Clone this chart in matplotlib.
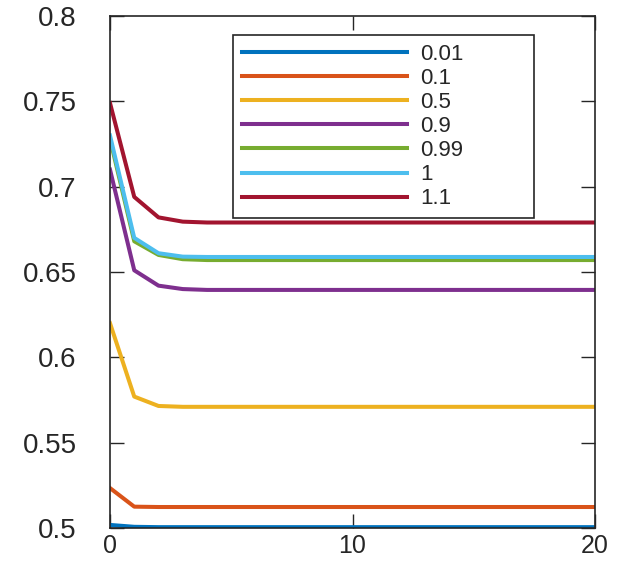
import matplotlib
matplotlib.use("Agg")
import matplotlib.pyplot as plt

# iteration index
iters = list(range(21))

labels = ["0.01", "0.1", "0.5", "0.9", "0.99", "1", "1.1"]
colors = ["#0072BD", "#D95319", "#EDB120", "#7E2F8E", "#77AC30", "#4DBEEE", "#A2142F"]

s_001 = [0.5018, 0.5007, 0.5005, 0.5005, 0.5005, 0.5005, 0.5005, 0.5005, 0.5005, 0.5005,
         0.5005, 0.5005, 0.5005, 0.5005, 0.5005, 0.5005, 0.5005, 0.5005, 0.5005, 0.5005, 0.5005]
s_01 = [0.5234, 0.5125, 0.5123, 0.5123, 0.5123, 0.5123, 0.5123, 0.5123, 0.5123, 0.5123,
        0.5123, 0.5123, 0.5123, 0.5123, 0.5123, 0.5123, 0.5123, 0.5123, 0.5123, 0.5123, 0.5123]
s_05 = [0.620, 0.577, 0.5715, 0.5710, 0.5710, 0.5710, 0.5710, 0.5710, 0.5710, 0.5710,
        0.5710, 0.5710, 0.5710, 0.5710, 0.5710, 0.5710, 0.5710, 0.5710, 0.5710, 0.5710, 0.5710]
s_09 = [0.710, 0.651, 0.642, 0.640, 0.6395, 0.6395, 0.6395, 0.6395, 0.6395, 0.6395,
        0.6395, 0.6395, 0.6395, 0.6395, 0.6395, 0.6395, 0.6395, 0.6395, 0.6395, 0.6395, 0.6395]
s_099 = [0.728, 0.668, 0.660, 0.6575, 0.657, 0.657, 0.657, 0.657, 0.657, 0.657,
         0.657, 0.657, 0.657, 0.657, 0.657, 0.657, 0.657, 0.657, 0.657, 0.657, 0.657]
s_1 = [0.730, 0.670, 0.661, 0.659, 0.6588, 0.6588, 0.6588, 0.6588, 0.6588, 0.6588,
       0.6588, 0.6588, 0.6588, 0.6588, 0.6588, 0.6588, 0.6588, 0.6588, 0.6588, 0.6588, 0.6588]
s_11 = [0.749, 0.694, 0.682, 0.6795, 0.679, 0.679, 0.679, 0.679, 0.679, 0.679,
        0.679, 0.679, 0.679, 0.679, 0.679, 0.679, 0.679, 0.679, 0.679, 0.679, 0.679]

series = [s_001, s_01, s_05, s_09, s_099, s_1, s_11]

yticks = [0.5, 0.55, 0.6, 0.65, 0.7, 0.75, 0.8]
ytick_labels = ["0.5", "0.55", "0.6", "0.65", "0.7", "0.75", "0.8"]
xticks = [0, 10, 20]

plt.rcParams["font.family"] = ["Liberation Sans", "DejaVu Sans"]

W, H = 623, 561
fig = plt.figure(figsize=(W / 100, H / 100), dpi=100)
ax = fig.add_axes([110 / W, 1 - 528 / H, 485 / W, 512 / H])

for vals, c, lab in zip(series, colors, labels):
    ax.plot(iters, vals, color=c, linewidth=2.9, label=lab, solid_joinstyle="round")

ax.set_xlim(0, 20)
ax.set_ylim(0.5, 0.8)
ax.set_xticks(xticks)
ax.set_yticks(yticks)
ax.set_yticklabels(ytick_labels)

edge = "#262626"
for sp in ax.spines.values():
    sp.set_color(edge)
    sp.set_linewidth(1.2)
ax.tick_params(direction="in", length=10, width=1, colors=edge,
               right=True, top=True)
ax.tick_params(axis="y", pad=24, labelsize=20)
ax.tick_params(axis="x", pad=4, labelsize=18)

# legend box spans roughly x 233-533 px, y 35-213 px
leg = ax.legend(loc="upper left", bbox_to_anchor=(0.254, 0.615, 0.62, 0.348),
                mode="expand", fontsize=16, handlelength=7.4, handletextpad=0.6,
                labelspacing=0.14, borderaxespad=0, fancybox=False,
                framealpha=1, edgecolor=edge, borderpad=0.4)
leg.get_frame().set_linewidth(1.2)
for t in leg.get_texts():
    t.set_color(edge)

fig.savefig("out.png", dpi=100)
